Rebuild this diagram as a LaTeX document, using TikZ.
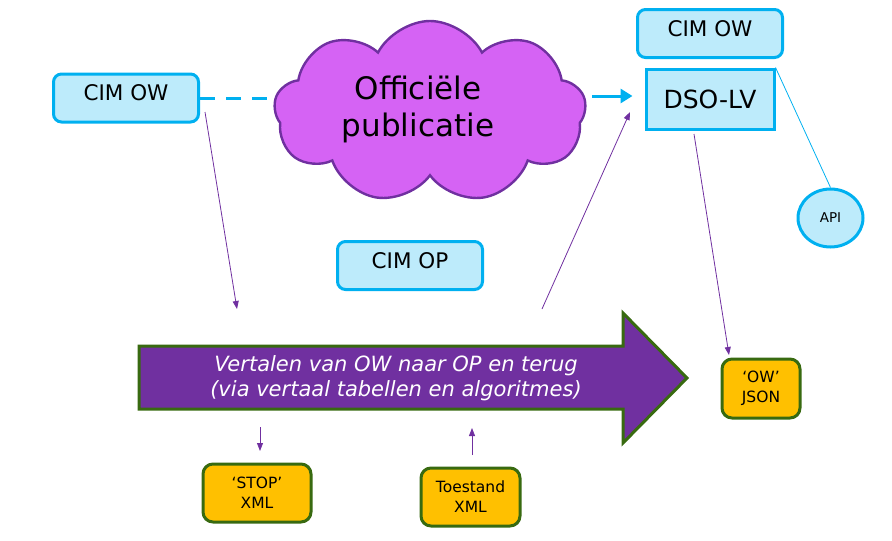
\documentclass[tikz,border=0pt]{standalone}
\usepackage{fontspec}
\setmainfont{DejaVu Sans}
\usetikzlibrary{shapes.symbols,shapes.geometric,arrows.meta,calc}
\definecolor{owblue}{HTML}{00B0F0}
\definecolor{owfill}{HTML}{BDEBFB}
\definecolor{cloudfill}{HTML}{D563F4}
\definecolor{purp}{HTML}{7030A0}
\definecolor{grn}{HTML}{386A10}
\definecolor{orng}{HTML}{FFC000}
\tikzset{
    cimbox/.style={draw=owblue, fill=owfill, line width=3pt, rounded corners=8pt,
        minimum width=145pt, minimum height=48pt, font=\fontsize{21.5}{25}\selectfont,
        text height=15.5pt, text depth=10pt},
    xmlbox/.style={draw=grn, fill=orng, line width=3pt, rounded corners=10pt,
        align=center, font=\fontsize{15.5}{20}\selectfont},
    thin/.style={draw=purp, line width=0.8pt, -{Triangle[length=8pt,width=6pt]}}
}
\begin{document}
\begin{tikzpicture}[x=1pt, y=-1pt]
    \useasboundingbox (0,0) rectangle (892,541);
    \node[cimbox] (ow1) at (126,98) {CIM OW};
    \node[cimbox] (ow2) at (710,33.5) {CIM OW};
    \node[cimbox] (op) at (410,265.5) {CIM OP};
    \node[draw=owblue, fill=owfill, line width=3pt, minimum width=128pt, minimum height=60pt,
        font=\fontsize{25}{30}\selectfont] (dso) at (710,99) {DSO-LV};
    \node[ellipse, draw=owblue, fill=owfill, line width=3pt, minimum width=65pt, minimum height=58pt,
        font=\fontsize{13.5}{15}\selectfont] (api) at (830.5,218) {API};
    \node[cloud, cloud puffs=9, cloud puff arc=125, cloud ignores aspect, draw=purp, fill=cloudfill,
        line width=2.4pt, minimum width=312pt, minimum height=182pt] (pub) at (430,112) {};
    \node[align=center, font=\fontsize{31}{37}\selectfont] (pubtxt) at (418,109) {Officiële\\publicatie};
    \draw[owblue, line width=3pt, dash pattern=on 15pt off 11pt] (ow1.east) -- (ow1.east -| pub.west);
    \draw[owblue, line width=3pt, -{Triangle[length=12pt,width=14pt]}, shorten <=6pt, shorten >=12pt]
        ($(pub.east |- dso.west)+(0,-3)$) -- ($(dso.west)+(0,-3)$);
    \draw[owblue, line width=0.8pt] (dso.north east) -- (api.north);
    % grote pijl
    \draw[grn, fill=purp, line width=3pt, line join=miter]
        (139,346) -- (623,346) -- (623,313) -- (687,378) -- (623,443) -- (623,409) -- (139,409) -- cycle;
    \node[align=center, text=white, font=\fontsize{21}{24.5}\selectfont\itshape] (vert) at (396,378)
        {Vertalen van OW naar OP en terug\\(via vertaal tabellen en algoritmes)};
    \node[xmlbox, minimum width=108pt, minimum height=58pt] (stop) at (257,493) {‘STOP’\\XML};
    \node[xmlbox, minimum width=99pt, minimum height=58pt] (toe) at (470.5,497) {Toestand\\XML};
    \node[xmlbox, minimum width=78pt, minimum height=59pt] (json) at (761,388.5) {‘OW’\\JSON};
    \coordinate (c1) at (237,309);
    \coordinate (c2) at (542,309);
    \coordinate (c3) at (630,112);
    \coordinate (c4) at (694,134);
    \coordinate (c5) at (260,427);
    \coordinate (c6) at (472,428);
    \draw[thin] (205,112) -- (c1);
    \draw[thin] (c2) -- (c3);
    \draw[thin] (c4) -- (729,355);
    \draw[thin] (c5) -- (260,451);
    \draw[thin] (472,455) -- (c6);
\end{tikzpicture}
\end{document}
